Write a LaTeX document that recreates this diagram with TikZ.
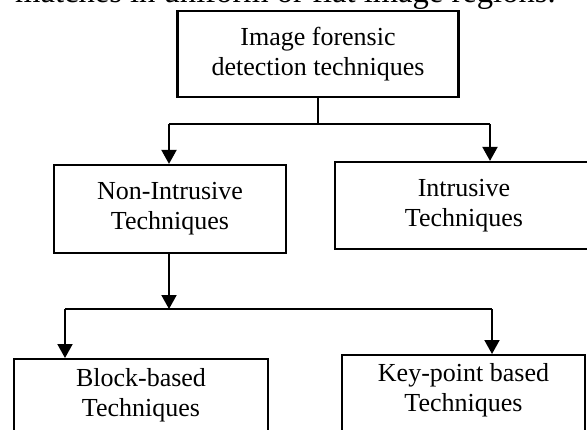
\documentclass[tikz,border=0pt]{standalone}
\usepackage{fontspec}
\setmainfont{Liberation Serif}
\usetikzlibrary{arrows.meta}

\begin{document}
\begin{tikzpicture}[x=1pt,y=-1pt]
\tikzset{box/.style = {shape=rectangle,draw,line width=2.2pt,align=center,inner sep=0pt,font=\fontsize{26}{30}\selectfont}}
\tikzset{line/.style = {line width=2pt}}
\tikzset{edge/.style = {line width=2pt,-{Triangle[length=14pt,width=15pt]}}}
\useasboundingbox (0,0) rectangle (587,429);
\clip (0,0) rectangle (587,429);

\node[anchor=base west,inner sep=0pt,font=\fontsize{32.6}{36}\selectfont] (prev) at (15,2) {matches in uniform or flat image regions.};

\node[box,minimum width=281pt,minimum height=86pt] (top) at (318,54) {Image forensic\\detection techniques};
\node[box,minimum width=232pt,minimum height=88pt] (nonintr) at (170,209) {Non-Intrusive\\Techniques};
\node[box,minimum width=258pt,minimum height=87pt] (intr) at (464,205.5) {Intrusive\\Techniques};
\node[box,anchor=north,minimum width=254pt,inner ysep=9pt,text depth=60pt] (block) at (141,358) {Block-based\\Techniques};
\node[box,anchor=north,minimum width=243pt,inner ysep=8pt,text depth=60pt] (keypt) at (463.5,354) {Key-point based\\Techniques};

\coordinate (j1) at (318,124);
\coordinate (j1l) at (169,124);
\coordinate (j1r) at (490,124);
\coordinate (j2) at (169,309);
\coordinate (j2l) at (65,309);
\coordinate (j2r) at (492,309);

\draw[line] (top.south) -- (j1);
\draw[line] (j1l) -- (j1r);
\draw[edge] (j1l) -- (j1l |- nonintr.north);
\draw[edge] (j1r) -- (j1r |- intr.north);
\draw[edge] (j2 |- nonintr.south) -- (j2);
\draw[line] (j2l) -- (j2r);
\draw[edge] (j2l) -- (j2l |- block.north);
\draw[edge] (j2r) -- (j2r |- keypt.north);
\end{tikzpicture}
\end{document}
